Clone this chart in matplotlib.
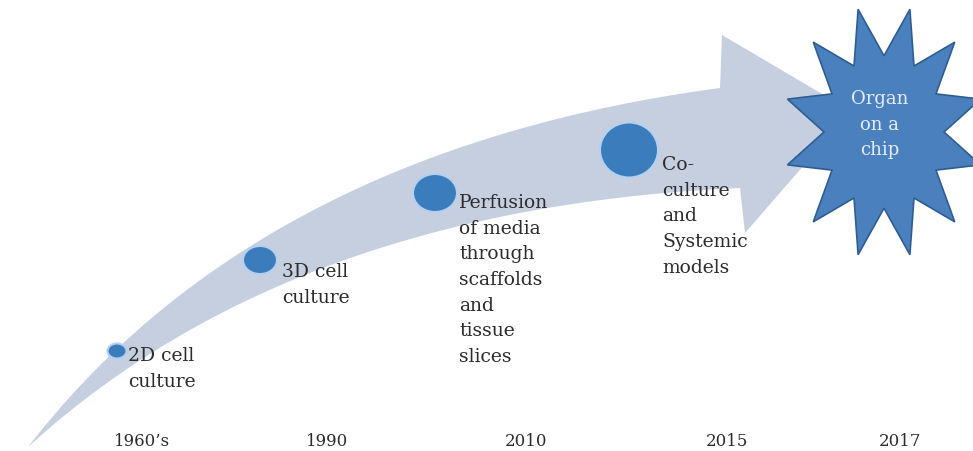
import numpy as np
import matplotlib
matplotlib.use("Agg")
import matplotlib.pyplot as plt
from matplotlib.patches import Polygon, Ellipse

# ---- content ----
years = ["1960\u2019s", "1990", "2010", "2015", "2017"]
stages = [["2D cell", "culture"],
          ["3D cell", "culture"],
          ["Perfusion", "of media", "through", "scaffolds", "and", "tissue", "slices"],
          ["Co-", "culture", "and", "Systemic", "models"]]
milestone = ["Organ", "on a", "chip"]

# ---- layout (pixel space) ----
W, H = 973, 451
fig = plt.figure(figsize=(W / 100, H / 100), dpi=100)
ax = fig.add_axes([0, 0, 1, 1])
ax.set_xlim(0, W)
ax.set_ylim(H, 0)
ax.axis("off")

band = "#c6cfe0"
circ_fill = "#3b7cbc"
circ_edge = "#b3d0ee"
star_fill = "#4b80bf"
star_edge = "#2f5d90"
txt = "#2c2c2c"
serif = "DejaVu Serif"


def qbez(p0, p1, p2, n=120):
    t = np.linspace(0, 1, n)[:, None]
    p0, p1, p2 = map(np.asarray, (p0, p1, p2))
    return (1 - t) ** 2 * p0 + 2 * (1 - t) * t * p1 + t ** 2 * p2


upper = qbez((28, 447), (258, 150), (720, 88))
lower = qbez((28, 447), (290, 208), (740, 188))
head = np.array([(720, 88), (722, 35), (851, 111), (745, 233), (740, 188)])
shape = np.vstack([upper, head[1:4], lower[::-1]])
ax.add_patch(Polygon(shape, closed=True, facecolor=band, edgecolor="none", zorder=1))

# circles on the arrow
centers = [(117, 351), (260, 260), (435, 193), (629, 150)]
sizes = [(19, 15), (34, 28), (44, 38), (58, 55)]
for (cx, cy), (w, h) in zip(centers, sizes):
    ax.add_patch(Ellipse((cx, cy), w, h, facecolor=circ_fill, edgecolor=circ_edge,
                         linewidth=1.5, zorder=3))

# stage labels
label_pos = [(128, 356), (282, 272), (459, 203), (662, 165)]
step = 25.7
for (lx, ly), lines in zip(label_pos, stages):
    for i, line in enumerate(lines):
        ax.text(lx, ly + i * step, line, ha="left", va="center", fontsize=13.5,
                family=serif, color=txt, zorder=4)

# star
n_pts = 12
ang = np.deg2rad(15 + np.arange(2 * n_pts) * 180 / n_pts)
rad = np.where(np.arange(2 * n_pts) % 2 == 0, 1.0, 0.6)
scx, scy, rx, ry = 884, 132, 100, 127
star = np.column_stack([scx + rx * rad * np.cos(ang), scy - ry * rad * np.sin(ang)])
ax.add_patch(Polygon(star, closed=True, facecolor=star_fill, edgecolor=star_edge,
                     linewidth=1.2, zorder=5))
for i, line in enumerate(milestone):
    ax.text(880, 99 + i * step, line, ha="center", va="center", fontsize=13,
            family=serif, color="#e6edf7", zorder=6)

# year labels
year_x = [142, 327, 526, 727, 900]
for x, y in zip(year_x, years):
    ax.text(x, 442, y, ha="center", va="center", fontsize=12, family=serif,
            color=txt, zorder=4)

fig.savefig("out.png", dpi=100)
